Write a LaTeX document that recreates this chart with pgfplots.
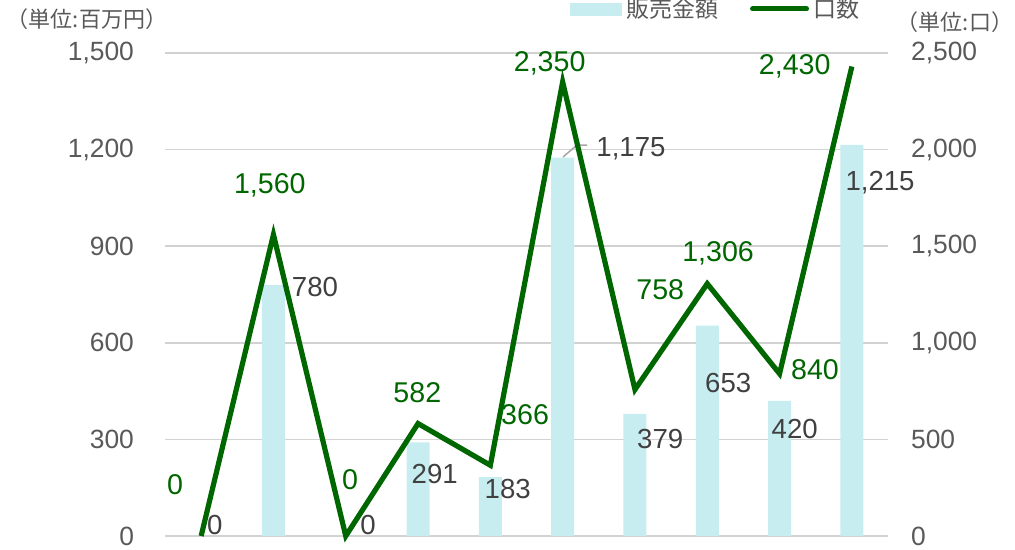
\documentclass[border=0pt]{standalone}
\usepackage{pgfplots}
\pgfplotsset{compat=1.18}
\usepackage{fontspec}
\setmainfont{Liberation Sans}
\newfontfamily\jp{Noto Sans CJK JP}
\definecolor{barc}{RGB}{199,237,240}
\definecolor{linec}{RGB}{0,102,0}
\definecolor{tickc}{RGB}{89,89,89}
\definecolor{labc}{RGB}{64,64,64}
\begin{document}
\begin{tikzpicture}
\useasboundingbox (-82.5pt,-7pt) rectangle (425pt,268pt);
\pgfplotsset{base/.style={scale only axis, width=361.5pt, height=241.5pt,
  xmin=-0.5, xmax=9.5, at={(0,0)}, anchor=south west, clip=false,
  xtick=\empty, major tick length=0, axis line style={draw=none},
  /pgf/number format/1000 sep={,}, /pgf/number format/assume math mode=true}}
\tikzset{glab/.style={text=linec, font=\fontsize{14.3}{17}\selectfont, inner sep=0pt},
         blab/.style={text=labc, font=\fontsize{13.8}{16}\selectfont, inner sep=0pt}}
\begin{axis}[base, ymin=0, ymax=1500, ytick={0,300,...,1500},
  ymajorgrids, grid style={draw=gray!35, line width=0.75pt},
  yticklabel style={font=\fontsize{13.2}{15}\selectfont, text=tickc, xshift=-12pt},
  ybar, bar width=11.5pt]
\addplot[fill=barc, draw=none] coordinates {(0,0) (1,780) (2,0) (3,291) (4,183) (5,1175) (6,379) (7,653) (8,420) (9,1215)};
% bar value labels
\node[blab] at (axis cs:0.19,34) {0};
\node[blab] at (axis cs:1.575,773) {780};
\node[blab] at (axis cs:2.31,34) {0};
\node[blab] at (axis cs:3.23,193) {291};
\node[blab] at (axis cs:4.24,146) {183};
\node[blab] at (axis cs:5.945,1202) {1,175};
\node[blab] at (axis cs:6.35,301) {379};
\node[blab] at (axis cs:7.29,475) {653};
\node[blab] at (axis cs:8.21,332) {420};
\node[blab] at (axis cs:9.39,1096) {1,215};
\draw[gray!70, line width=0.75pt] (axis cs:5.005,1177) -- (axis cs:5.198,1214) -- (axis cs:5.337,1214);
% line value labels
\node[glab] at (axis cs:-0.36,158) {0};
\node[glab] at (axis cs:0.95,1090) {1,560};
\node[glab] at (axis cs:2.06,174) {0};
\node[glab] at (axis cs:2.99,444) {582};
\node[glab] at (axis cs:4.48,376) {366};
\node[glab] at (axis cs:4.82,1469) {2,350};
\node[glab] at (axis cs:6.35,764) {758};
\node[glab] at (axis cs:7.15,879) {1,306};
\node[glab] at (axis cs:8.49,516) {840};
\node[glab] at (axis cs:8.21,1457) {2,430};
\end{axis}
\begin{axis}[base, ymin=0, ymax=2500, ytick={0,500,...,2500},
  axis y line*=right, axis x line=none,
  yticklabel style={font=\fontsize{13.2}{15}\selectfont, text=tickc, xshift=8pt},
  legend columns=2,
  legend style={at={(axis description cs:0.763,1)}, anchor=center, yshift=22pt,
    draw=none, fill=none, font=\jp\fontsize{11.5}{14}\selectfont, text=tickc,
    /tikz/every even column/.append style={column sep=14pt}}]
\addlegendimage{legend image code/.code={\fill[barc] (0pt,-3pt) rectangle (25.5pt,3pt);}}
\addlegendentry{販売金額}
\addplot[linec, line width=2.6pt, mark=none,
  legend image code/.code={\draw[linec, line width=2.5pt, line cap=round] (0pt,0pt) -- (27pt,0pt);}]
  coordinates {(0,0) (1,1560) (2,0) (3,582) (4,366) (5,2350) (6,758) (7,1306) (8,840) (9,2430)};
\addlegendentry{口数}
\end{axis}
\node[text=tickc, font=\jp\fontsize{11}{13}\selectfont, inner sep=0pt] at (-39pt,258.5pt) {（単位:百万円）};
\node[text=tickc, font=\jp\fontsize{11}{13}\selectfont, inner sep=0pt] at (395pt,257pt) {（単位:口）};
\end{tikzpicture}
\end{document}
